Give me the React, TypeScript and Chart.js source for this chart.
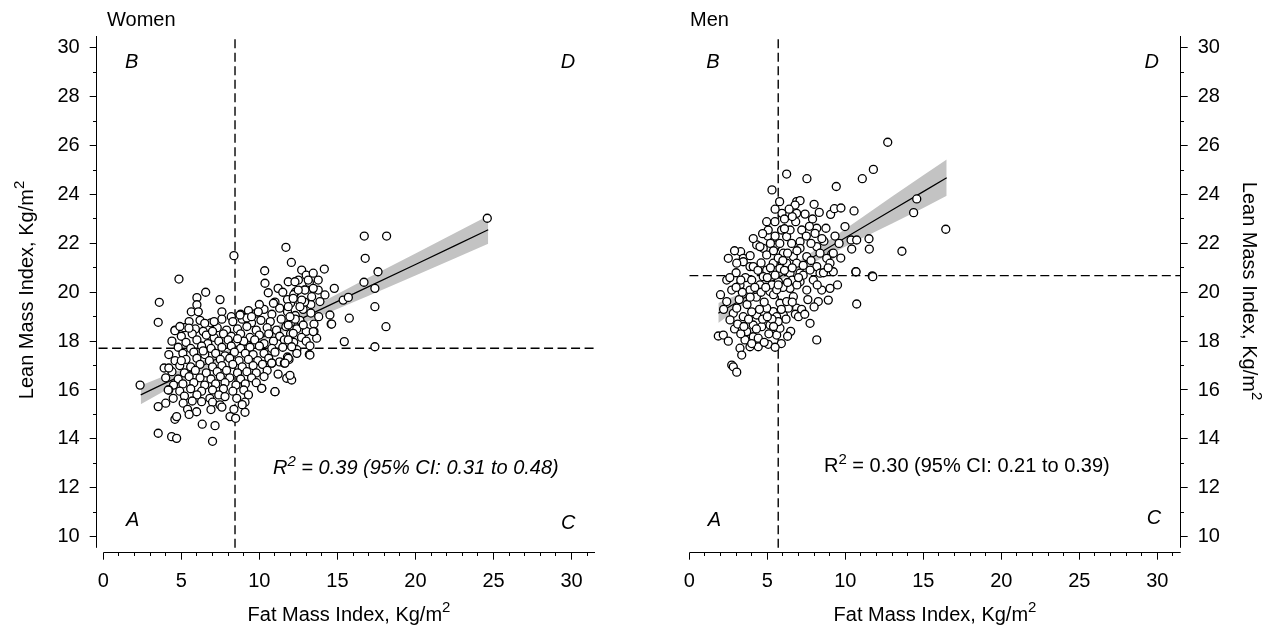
import React, { useEffect, useRef } from 'react';
import { Chart, registerables } from 'chart.js';

Chart.register(...registerables);

const FONT = '"Liberation Sans", Arial, Helvetica, sans-serif';

// ---------- tick values ----------
const xTickValues = [0, 5, 10, 15, 20, 25, 30];
const yTickValues = [10, 12, 14, 16, 18, 20, 22, 24, 26, 28, 30];

// ---------- Women: [fat mass index, lean mass index] ----------
const womenPoints: [number, number][] = [
  [8.8, 19.1], [9.3, 19.25], [9.8, 19.15], [10.3, 19.3], [10.8, 19.1], [11.3, 19.35], [11.8, 19.2], [12.3, 19.05],
  [12.8, 19.3], [13.3, 19.15], [7.6, 19.2], [8.2, 19.0], [13.8, 19.0], [10.0, 19.5], [11.0, 19.6], [12.0, 19.55],
  [5.5, 18.8], [6.2, 18.85], [6.9, 18.75], [7.6, 18.9], [8.3, 18.8], [8.9, 18.9], [9.5, 18.75], [10.1, 18.85],
  [10.7, 18.8], [11.4, 18.9], [12.0, 18.75], [12.6, 18.85], [13.5, 18.7], [14.6, 18.7], [9.2, 18.95],
  [4.6, 18.45], [5.2, 18.55], [5.9, 18.5], [6.4, 18.4], [7.3, 18.55], [7.9, 18.45], [8.6, 18.5], [9.2, 18.6],
  [9.8, 18.45], [10.5, 18.55], [11.1, 18.45], [11.7, 18.6], [12.4, 18.5], [13.0, 18.4], [13.5, 18.4],
  [5.0, 18.2], [5.7, 18.3], [6.6, 18.25], [7.1, 18.15], [7.7, 18.3], [8.2, 18.2], [8.8, 18.3], [9.4, 18.15],
  [10.0, 18.25], [10.6, 18.3], [11.3, 18.2], [12.0, 18.3], [12.7, 18.15],
  [4.4, 18.0], [5.3, 17.95], [6.0, 18.05], [6.7, 17.9], [7.4, 18.0], [8.0, 18.05], [8.5, 17.95], [9.0, 18.0],
  [9.7, 18.05], [10.3, 17.9], [10.9, 18.0], [11.6, 18.05], [12.2, 17.95], [13.0, 18.0],
  [4.8, 17.75], [5.6, 17.7], [6.3, 17.8], [6.9, 17.7], [7.6, 17.75], [8.2, 17.8], [8.8, 17.7], [9.4, 17.75],
  [10.0, 17.8], [10.8, 17.7], [11.5, 17.75], [12.4, 17.65],
  [4.2, 17.45], [5.1, 17.5], [5.8, 17.55], [6.5, 17.45], [7.2, 17.5], [7.8, 17.4], [8.4, 17.55], [9.1, 17.5],
  [9.6, 17.45], [10.3, 17.5], [11.0, 17.55], [11.8, 17.35], [12.4, 17.5], [13.2, 17.45],
  [4.6, 17.2], [5.3, 17.25], [6.0, 17.3], [6.8, 17.2], [7.5, 17.25], [8.1, 17.3], [8.7, 17.2], [9.3, 17.25],
  [9.9, 17.2], [10.6, 17.3], [11.3, 17.15], [11.9, 17.25],
  [3.9, 16.9], [4.9, 17.0], [5.6, 16.95], [6.2, 17.05], [7.0, 16.95], [7.6, 17.0], [8.3, 17.05], [8.9, 16.95],
  [9.6, 17.0], [10.2, 17.05], [10.8, 17.1], [11.6, 17.1],
  [4.4, 16.75], [5.2, 16.7], [5.9, 16.8], [6.6, 16.7], [7.3, 16.75], [7.9, 16.8], [8.6, 16.7], [9.2, 16.75],
  [9.8, 16.7], [10.5, 16.8], [11.2, 16.65],
  [4.0, 16.5], [4.8, 16.45], [5.5, 16.55], [6.2, 16.5], [6.9, 16.45], [7.5, 16.55], [8.1, 16.5], [8.8, 16.45],
  [9.5, 16.5], [10.3, 16.55], [11.75, 16.48], [12.07, 16.41],
  [4.5, 16.2], [5.1, 16.25], [5.8, 16.3], [6.5, 16.2], [7.2, 16.25], [7.8, 16.3], [8.5, 16.2], [9.1, 16.25],
  [9.8, 16.3], [10.15, 16.07],
  [4.2, 16.0], [4.9, 15.95], [5.6, 16.05], [6.3, 15.95], [7.0, 16.0], [7.7, 16.05], [8.3, 15.95], [9.0, 16.0],
  [11.0, 15.93],
  [4.48, 15.66], [5.2, 15.75], [6.0, 15.8], [6.83, 15.66], [7.4, 15.8], [7.8, 15.73], [8.55, 15.66], [9.3, 15.8],
  [4.16, 16.0],
  [4.0, 15.46], [5.12, 15.46], [5.7, 15.55], [6.3, 15.52], [7.0, 15.5], [7.48, 15.39], [8.37, 15.21], [9.08, 15.09],
  [3.52, 15.32], [5.4, 15.21], [5.98, 15.11], [6.9, 15.2], [7.6, 15.3],
  [4.59, 14.8], [4.7, 14.91], [8.12, 14.91], [8.48, 14.84], [6.34, 14.6], [7.16, 14.54], [5.5, 15.0],
  [3.52, 14.23], [4.38, 14.09], [4.7, 14.02], [7.0, 13.9],
  [2.36, 16.2], [4.2, 16.9], [3.52, 18.77], [3.59, 19.59], [4.59, 18.43], [4.91, 18.6], [5.49, 18.53],
  [6.5, 18.73], [7.1, 18.8], [4.85, 20.54], [6.56, 20.0], [6.0, 19.78], [7.48, 19.7], [6.0, 19.49], [5.64, 19.2],
  [6.09, 19.2], [8.37, 21.5], [8.76, 19.07], [9.93, 19.2], [10.9, 19.55],
  [10.34, 20.88], [10.36, 20.37], [10.57, 19.98], [11.2, 20.16], [11.85, 20.43], [11.7, 21.84], [12.05, 21.22],
  [12.71, 20.91], [13.0, 20.7], [13.45, 20.78], [13.2, 20.4], [12.5, 20.5], [12.3, 20.0], [12.9, 20.1],
  [13.77, 20.09], [14.2, 19.89], [13.88, 19.62], [13.3, 19.5], [12.6, 19.6], [11.8, 19.7], [14.16, 20.95],
  [14.8, 20.16], [15.37, 19.68], [15.7, 19.79], [14.52, 19.07], [14.63, 18.7], [15.76, 18.94], [13.67, 18.12],
  [13.24, 17.81], [13.24, 17.43], [13.45, 18.39], [15.44, 17.98], [17.4, 17.77], [18.11, 18.59], [17.4, 19.41],
  [17.4, 20.16], [16.7, 20.41], [17.6, 20.84], [16.78, 21.39], [16.72, 22.3], [18.15, 22.3], [24.6, 23.03],
  [11.85, 17.3], [11.96, 16.6], [12.3, 18.9], [12.9, 19.6], [11.5, 20.0], [12.2, 19.9],
  [12.92, 20.09], [12.49, 20.09], [12.28, 20.43], [12.17, 19.75], [12.71, 19.68], [13.35, 19.82], [11.85, 19.41],
  [12.6, 19.41], [11.96, 19.0], [11.85, 18.66], [12.81, 18.66], [12.17, 18.32], [11.85, 18.05], [12.07, 17.77],
  [13.45, 20.16], [13.77, 20.5], [13.13, 20.5], [11.0, 15.93], [10.15, 16.07], [10.79, 17.1], [11.64, 17.1],
  [9.08, 15.5], [8.9, 15.4], [5.0, 17.2], [6.4, 17.6], [7.0, 18.4], [8.6, 18.1], [9.5, 19.0],
];

// ---------- Men: [fat mass index, lean mass index] ----------
const menPoints: [number, number][] = [
  [12.72, 26.14], [11.8, 25.03], [11.09, 24.65], [14.58, 23.82], [14.38, 23.26], [16.44, 22.58], [13.63, 21.68],
  [9.42, 24.33], [7.54, 24.65], [6.24, 24.84], [5.3, 24.19], [5.79, 23.71], [6.88, 23.71], [7.1, 23.75],
  [6.78, 23.57], [5.94, 23.23], [6.88, 23.23], [7.42, 23.2], [8.33, 23.27], [9.06, 23.19], [9.3, 23.42],
  [9.72, 23.45], [10.56, 23.33], [4.96, 22.89], [5.49, 22.89], [9.98, 22.69], [8.17, 22.62], [8.76, 22.62],
  [5.03, 22.3], [9.34, 22.3], [8.63, 22.09], [10.37, 22.14], [10.73, 22.14], [11.52, 22.19], [11.54, 21.77],
  [10.41, 21.77], [9.71, 21.4], [9.13, 21.57], [10.67, 20.84], [11.73, 20.67], [9.23, 20.84], [3.29, 21.66],
  [2.5, 21.39], [10.73, 19.52], [7.74, 18.73], [8.17, 18.05], [8.49, 20.09], [8.91, 19.68], [8.27, 19.62],
  [9.02, 20.16], [5.6, 18.25], [5.06, 17.87], [4.42, 17.77], [3.89, 17.77], [3.25, 17.71], [3.36, 17.43],
  [1.86, 18.21], [2.18, 18.25], [2.5, 18.0], [2.72, 17.02], [2.82, 16.95], [3.04, 16.73],
  [3.68, 18.39], [4.1, 18.18], [3.57, 18.05], [4.42, 18.12], [5.17, 18.66], [4.64, 18.59], [4.1, 18.66],
  [5.81, 18.53], [6.03, 19.07], [5.38, 19.21], [6.35, 19.35], [5.81, 19.55], [4.96, 19.35], [4.32, 19.07],
  [3.46, 19.0], [2.82, 19.14], [2.61, 18.87], [3.04, 19.35], [2.4, 19.62], [2.72, 20.09], [3.25, 20.3],
  [3.89, 20.09], [4.53, 20.3], [5.17, 20.03], [5.71, 20.43], [6.46, 20.16], [7.1, 20.43], [7.53, 20.09],
  [7.95, 20.5], [6.67, 19.82], [6.24, 19.62], [6.88, 19.35],
  [3.46, 21.39], [3.89, 21.05], [4.32, 21.94], [4.74, 21.8], [4.96, 21.53], [5.6, 21.94], [6.24, 22.28],
  [6.56, 22.0], [7.1, 22.07], [7.1, 21.8], [6.03, 21.6], [6.67, 21.46], [6.88, 21.19], [7.53, 21.46],
  [8.17, 21.87], [8.38, 21.6], [8.81, 21.39], [9.02, 21.19], [8.17, 21.05], [6.24, 21.19], [5.38, 21.19],
  [5.81, 20.98], [4.96, 20.91], [4.74, 20.64], [4.1, 21.05], [3.46, 21.25], [6.46, 22.55], [5.92, 22.55],
  [7.21, 22.55], [6.82, 22.89], [8.06, 22.41], [5.06, 22.55], [4.53, 21.87], [7.74, 20.91], [7.1, 20.78],
  [6.46, 20.78], [8.38, 20.78], [9.23, 21.6], [3.04, 21.19],
  [3.2, 19.7], [3.7, 19.5], [4.3, 19.8], [4.8, 19.6], [5.4, 19.9], [6.0, 20.2], [6.6, 20.5], [5.0, 20.6],
  [5.5, 20.7], [6.1, 20.9], [3.6, 20.6], [4.0, 20.5], [4.4, 20.9], [3.0, 20.8], [3.8, 18.9], [4.5, 19.3],
  [5.6, 19.0], [6.2, 18.9], [6.8, 19.1], [5.1, 18.3], [4.8, 17.95], [5.9, 17.9], [5.7, 18.8], [2.9, 18.5],
  [3.3, 18.3], [2.2, 19.3], [2.0, 19.9], [2.4, 20.5], [3.1, 18.7], [6.5, 18.4], [7.2, 19.3], [7.6, 19.7],
  [7.3, 20.7], [7.8, 21.3], [6.9, 20.3], [5.3, 20.3], [4.6, 20.0], [3.4, 20.0], [6.3, 21.6], [5.7, 21.4],
  [5.2, 22.0], [7.5, 22.3], [8.5, 22.2], [6.1, 23.0], [5.5, 23.4], [7.9, 23.0], [5.8, 22.0], [4.7, 22.4],
  [3.9, 21.5], [2.9, 21.7], [7.0, 19.0], [8.0, 19.4], [8.6, 20.8], [9.5, 20.3], [5.5, 17.75], [10.69, 20.84],
  [11.76, 20.64],
  [3.5, 18.6], [4.0, 19.2], [4.7, 18.9], [5.3, 18.9], [5.9, 19.3], [6.6, 19.6], [3.9, 19.8], [4.9, 20.2],
  [5.6, 20.1], [6.3, 20.4], [7.0, 20.6], [4.2, 20.2], [3.3, 20.5], [4.6, 21.2], [5.2, 21.0], [6.0, 21.3],
  [6.6, 21.0], [7.3, 21.1], [5.4, 21.7], [6.9, 21.7], [7.8, 22.0], [6.1, 22.6], [6.6, 23.1], [7.7, 22.7],
  [5.7, 20.3], [4.3, 18.5], [5.0, 19.0], [3.0, 20.2], [2.6, 20.6], [8.2, 20.3], [8.9, 21.0], [9.6, 22.0],
  [8.0, 23.6], [6.4, 23.4], [5.5, 22.3], [4.1, 22.2], [7.4, 19.1], [6.3, 18.2], [5.4, 18.6], [4.0, 17.9],
];

// ---------- regression lines and 95% bands ----------
const womenFitX = [2.4, 4, 6, 8.5, 11, 14, 17, 20, 22.5, 24.66];
const womenFitY = [15.8, 16.29, 16.89, 17.65, 18.41, 19.32, 20.23, 21.14, 21.9, 22.56];
const womenBandUpper = [16.18, 16.59, 17.09, 17.78, 18.58, 19.59, 20.6, 21.59, 22.42, 23.13];
const womenBandLower = [15.42, 15.99, 16.69, 17.52, 18.24, 19.05, 19.86, 20.69, 21.38, 21.99];

const menFitX = [1.86, 3, 4.5, 5.7, 7, 9, 11, 13, 15, 16.5];
const menFitY = [19.14, 19.57, 20.14, 20.6, 21.09, 21.85, 22.61, 23.37, 24.12, 24.69];
const menBandUpper = [19.56, 19.87, 20.34, 20.75, 21.26, 22.15, 23.03, 23.92, 24.79, 25.43];
const menBandLower = [18.74, 19.27, 19.94, 20.45, 20.92, 21.55, 22.19, 22.82, 23.45, 23.95];

// ---------- cut-off (dashed) lines ----------
const womenFatCut = 8.44;
const womenLeanCut = 17.71;
const menFatCut = 5.7;
const menLeanCut = 20.68;

// ---------- axis ranges ----------
const X_END = 31.5;
const Y_MIN = 9.34;
const Y_MAX = 30.49;
const Y_AXIS_BOTTOM = 9.54;

type Part = { t: string; sup?: boolean };
const X_TITLE: Part[] = [{ t: 'Fat Mass Index, Kg/m' }, { t: '2', sup: true }];
const Y_TITLE: Part[] = [{ t: 'Lean Mass Index, Kg/m' }, { t: '2', sup: true }];

type Letter = { t: string; x: number; y: number };
type PanelSpec = {
  id: string;
  points: [number, number][];
  fitX: number[];
  fitY: number[];
  bandUp: number[];
  bandLo: number[];
  fatCut: number;
  leanCut: number;
  xMin: number;
  hLineStart: number;
  yRight: boolean;
  yScaleWidth: number;
  padding: { left: number; right: number; top: number; bottom: number };
  title: { text: string; x: number; y: number };
  letters: Letter[];
  note: { parts: Part[]; x: number; y: number; italic: boolean };
  xTitle: { x: number; y: number };
  yTitle: { x: number; y: number; rot: number };
};

const panels: PanelSpec[] = [
  {
    id: 'women',
    points: womenPoints,
    fitX: womenFitX,
    fitY: womenFitY,
    bandUp: womenBandUpper,
    bandLo: womenBandLower,
    fatCut: womenFatCut,
    leanCut: womenLeanCut,
    xMin: -0.42,
    hLineStart: -0.3,
    yRight: false,
    yScaleWidth: 96.7,
    padding: { left: 0, right: 44, top: 36, bottom: 0 },
    title: { text: 'Women', x: 107, y: 26 },
    letters: [
      { t: 'B', x: 131.7, y: 68 },
      { t: 'D', x: 568, y: 68 },
      { t: 'A', x: 132.7, y: 526 },
      { t: 'C', x: 568.3, y: 529 },
    ],
    note: {
      parts: [{ t: 'R' }, { t: '2', sup: true }, { t: ' = 0.39 (95% CI: 0.31 to 0.48)' }],
      x: 273,
      y: 474,
      italic: true,
    },
    xTitle: { x: 349, y: 621 },
    yTitle: { x: 33, y: 290, rot: -Math.PI / 2 },
  },
  {
    id: 'men',
    points: menPoints,
    fitX: menFitX,
    fitY: menFitY,
    bandUp: menBandUpper,
    bandLo: menBandLower,
    fatCut: menFatCut,
    leanCut: menLeanCut,
    xMin: 0,
    hLineStart: 0,
    yRight: true,
    yScaleWidth: 97.3,
    padding: { left: 50.3, right: 0, top: 36, bottom: 0 },
    title: { text: 'Men', x: 51, y: 26 },
    letters: [
      { t: 'B', x: 74, y: 68 },
      { t: 'D', x: 512.7, y: 68 },
      { t: 'A', x: 75.3, y: 526 },
      { t: 'C', x: 515, y: 524 },
    ],
    note: {
      parts: [{ t: 'R' }, { t: '2', sup: true }, { t: ' = 0.30 (95% CI: 0.21 to 0.39)' }],
      x: 185,
      y: 472,
      italic: false,
    },
    xTitle: { x: 296, y: 621 },
    yTitle: { x: 604, y: 291, rot: Math.PI / 2 },
  },
];

function align(p: number) {
  return Math.round(p - 0.5) + 0.5;
}

function fontStr(size: number, italic: boolean) {
  return `${italic ? 'italic ' : ''}${size}px ${FONT}`;
}

// draws text with superscripts; anchor 'left' or 'center' at (x, baseline y)
function drawParts(
  ctx: CanvasRenderingContext2D,
  parts: Part[],
  x: number,
  y: number,
  anchor: 'left' | 'center',
  italic: boolean,
  supRaise: number
) {
  ctx.textAlign = 'left';
  ctx.textBaseline = 'alphabetic';
  const widths = parts.map((p) => {
    ctx.font = fontStr(p.sup ? 15 : 20, italic);
    return ctx.measureText(p.t).width;
  });
  const total = widths.reduce((a, b) => a + b, 0);
  let cx = anchor === 'center' ? x - total / 2 : x;
  parts.forEach((p, i) => {
    ctx.font = fontStr(p.sup ? 15 : 20, italic);
    ctx.fillText(p.t, cx, p.sup ? y - supRaise : y);
    cx += widths[i];
  });
}

function makeDecor(spec: PanelSpec) {
  return {
    id: 'decor',
    afterDraw(chart: any) {
      const ctx = chart.ctx as CanvasRenderingContext2D;
      const xs = chart.scales.x;
      const ys = chart.scales.y;
      const area = chart.chartArea;
      ctx.save();
      ctx.strokeStyle = '#000';
      ctx.lineWidth = 1;
      ctx.setLineDash([]);
      // y axis line
      const axX = align(spec.yRight ? area.right : area.left);
      ctx.beginPath();
      ctx.moveTo(axX, ys.getPixelForValue(Y_MAX));
      ctx.lineTo(axX, ys.getPixelForValue(Y_AXIS_BOTTOM));
      ctx.stroke();
      // x axis line
      const axY = align(area.bottom);
      ctx.beginPath();
      ctx.moveTo(xs.getPixelForValue(0), axY);
      ctx.lineTo(xs.getPixelForValue(X_END), axY);
      ctx.stroke();
      // minor ticks
      ctx.beginPath();
      for (let v = 1; v <= 31; v++) {
        if (v % 5 === 0) continue;
        const px = align(xs.getPixelForValue(v));
        ctx.moveTo(px, axY);
        ctx.lineTo(px, axY + 3.5);
      }
      for (let v = 11; v <= 29; v += 2) {
        const py = align(ys.getPixelForValue(v));
        ctx.moveTo(axX, py);
        ctx.lineTo(spec.yRight ? axX + 3.5 : axX - 3.5, py);
      }
      ctx.stroke();
      // texts
      ctx.fillStyle = '#000';
      ctx.textBaseline = 'alphabetic';
      ctx.textAlign = 'left';
      ctx.font = fontStr(20, false);
      ctx.fillText(spec.title.text, spec.title.x, spec.title.y);
      ctx.font = fontStr(20, true);
      ctx.textAlign = 'center';
      for (const l of spec.letters) ctx.fillText(l.t, l.x, l.y);
      drawParts(ctx, spec.note.parts, spec.note.x, spec.note.y, 'left', spec.note.italic, 8);
      // axis titles
      drawParts(ctx, X_TITLE, spec.xTitle.x, spec.xTitle.y, 'center', false, 9);
      ctx.save();
      ctx.translate(spec.yTitle.x, spec.yTitle.y);
      ctx.rotate(spec.yTitle.rot);
      drawParts(ctx, Y_TITLE, 0, 0, 'center', false, 9);
      ctx.restore();
      ctx.restore();
    },
  };
}

function buildConfig(spec: PanelSpec): any {
  const pts = spec.points.map(([x, y]) => ({ x, y }));
  const fit = spec.fitX.map((x, i) => ({ x, y: spec.fitY[i] }));
  const up = spec.fitX.map((x, i) => ({ x, y: spec.bandUp[i] }));
  const lo = spec.fitX.map((x, i) => ({ x, y: spec.bandLo[i] }));
  const vLine = [
    { x: spec.fatCut, y: Y_AXIS_BOTTOM },
    { x: spec.fatCut, y: Y_MAX },
  ];
  const hLine = [
    { x: spec.hLineStart, y: spec.leanCut },
    { x: X_END, y: spec.leanCut },
  ];
  const tickFont = { family: FONT, size: 20 };
  const grid = {
    display: true,
    drawOnChartArea: false,
    drawTicks: true,
    tickLength: 7,
    color: '#000',
    lineWidth: 1,
  };
  const dash = {
    type: 'line',
    borderColor: '#000',
    borderWidth: 1.4,
    borderDash: [9, 4.5],
    pointRadius: 0,
    fill: false,
    order: 2,
  };
  return {
    type: 'scatter',
    data: {
      datasets: [
        {
          type: 'scatter',
          data: pts,
          pointRadius: 4.0,
          pointBorderWidth: 1.3,
          pointBackgroundColor: '#ffffff',
          pointBorderColor: '#000000',
          order: 0,
        },
        {
          type: 'line',
          data: fit,
          borderColor: '#000',
          borderWidth: 1.2,
          pointRadius: 0,
          fill: false,
          tension: 0,
          order: 1,
        },
        {
          type: 'line',
          data: up,
          borderWidth: 0,
          borderColor: 'rgba(0,0,0,0)',
          backgroundColor: '#c3c3c3',
          pointRadius: 0,
          fill: '+1',
          tension: 0,
          order: 3,
        },
        {
          type: 'line',
          data: lo,
          borderWidth: 0,
          borderColor: 'rgba(0,0,0,0)',
          pointRadius: 0,
          fill: false,
          tension: 0,
          order: 3,
        },
        { ...dash, data: vLine },
        { ...dash, data: hLine },
      ],
    },
    options: {
      animation: false,
      responsive: false,
      devicePixelRatio: 1,
      events: [],
      layout: { padding: spec.padding },
      plugins: {
        legend: { display: false },
        tooltip: { enabled: false },
        title: { display: false },
      },
      scales: {
        x: {
          type: 'linear',
          position: 'bottom',
          min: spec.xMin,
          max: X_END,
          afterBuildTicks: (s: any) => {
            s.ticks = xTickValues.map((v) => ({ value: v }));
          },
          afterFit: (s: any) => {
            s.height = 82.3;
          },
          grid,
          border: { display: false },
          ticks: {
            font: tickFont,
            color: '#000',
            padding: 10,
            autoSkip: false,
            maxRotation: 0,
            callback: (v: any) => String(v),
          },
        },
        y: {
          type: 'linear',
          position: spec.yRight ? 'right' : 'left',
          min: Y_MIN,
          max: Y_MAX,
          afterBuildTicks: (s: any) => {
            s.ticks = yTickValues.map((v) => ({ value: v }));
          },
          afterFit: (s: any) => {
            s.width = spec.yScaleWidth;
          },
          grid,
          border: { display: false },
          ticks: {
            font: tickFont,
            color: '#000',
            padding: 10,
            autoSkip: false,
            callback: (v: any) => String(v),
          },
        },
      },
    },
    plugins: [makeDecor(spec)],
  };
}

function Panel({ spec, left }: { spec: PanelSpec; left: number }) {
  const ref = useRef<HTMLCanvasElement | null>(null);
  useEffect(() => {
    if (!ref.current) return;
    const chart = new Chart(ref.current, buildConfig(spec));
    return () => chart.destroy();
  }, [spec]);
  return (
    <canvas
      ref={ref}
      width={639}
      height={635}
      style={{ position: 'absolute', left, top: 0, width: 639, height: 635, display: 'block' }}
    />
  );
}

export default function App() {
  return (
    <div
      style={{
        position: 'absolute',
        left: 0,
        top: 0,
        width: 1278,
        height: 635,
        background: '#fff',
        overflow: 'hidden',
      }}
    >
      <Panel spec={panels[0]} left={0} />
      <Panel spec={panels[1]} left={639} />
    </div>
  );
}
